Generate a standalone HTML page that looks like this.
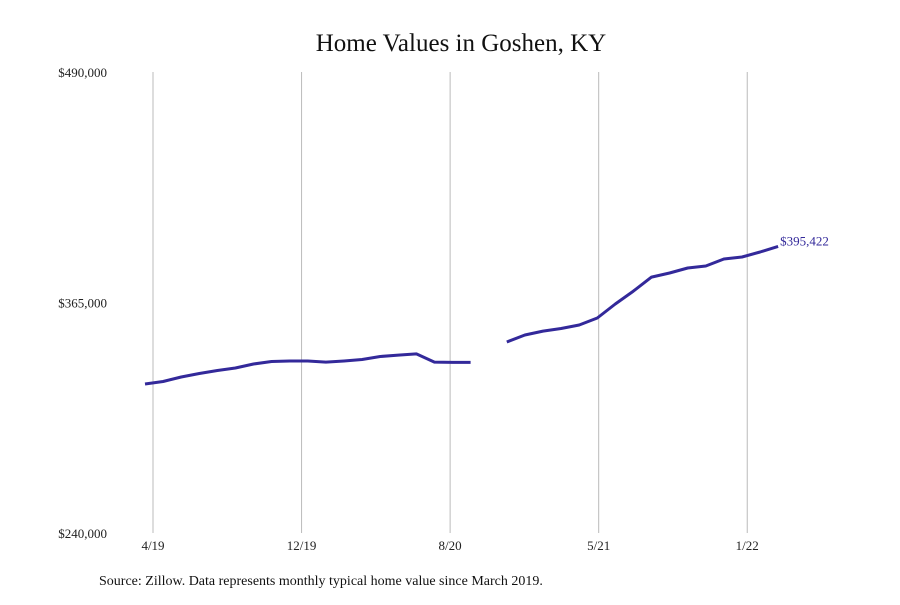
<!DOCTYPE html>
<html><head><meta charset="utf-8"><style>
body{margin:0;background:#fff;}
svg text{font-family:"Liberation Serif",serif;}
</style></head><body>
<svg width="900" height="600" viewBox="0 0 900 600">
<text x="461" y="51" text-anchor="middle" font-size="25" fill="#111">Home Values in Goshen, KY</text>
<g id="grid"></g><g id="yt"></g><g id="xt"></g>
<path id="line" fill="none" stroke="#33299a" stroke-width="3" stroke-linejoin="round"/>
<text id="endlbl" font-size="13" fill="#33299a"></text>
<text x="99" y="585" font-size="14" fill="#111">Source: Zillow. Data represents monthly typical home value since March 2019.</text>
</svg>
<script>
const values=[320800,322160,324600,326500,328100,329500,331650,333000,333300,333300,332700,333300,334100,335700,336500,337100,332700,332500,332500,null,343600,347400,349500,350900,352800,356600,364200,371200,378800,381000,383700,384800,388600,389700,392400,395422];
const yTicks=[240000,365000,490000];
const yTickLabels=["$240,000","$365,000","$490,000"];
const xTickPos=[1,9,17,25,33];
const xTickLabels=["4/19","12/19","8/20","5/21","1/22"];
const NS="http://www.w3.org/2000/svg";
const ymin=240000,ymax=490000;
function y(v){return 533-(v-ymin)/(ymax-ymin)*461;}
function x(i){return 145+i*18.09;}
function tx(i){return 153+(i-1)*18.57;}
const grid=document.getElementById('grid'),yt=document.getElementById('yt'),xt=document.getElementById('xt');
xTickPos.forEach((p,k)=>{
 const l=document.createElementNS(NS,'line');
 l.setAttribute('x1',tx(p));l.setAttribute('x2',tx(p));l.setAttribute('y1',72);l.setAttribute('y2',533);
 l.setAttribute('stroke','#bbb');l.setAttribute('stroke-width','1');
 
 
 grid.appendChild(l);
 const t=document.createElementNS(NS,'text');
 t.setAttribute('x',tx(p));t.setAttribute('y',550);t.setAttribute('text-anchor','middle');t.setAttribute('font-size','13');t.setAttribute('fill','#222');
 t.textContent=xTickLabels[k];
 
 
 xt.appendChild(t);
});
yTicks.forEach((v,k)=>{
 const t=document.createElementNS(NS,'text');
 t.setAttribute('x',107);t.setAttribute('y',y(v)+5);t.setAttribute('text-anchor','end');t.setAttribute('font-size','13');t.setAttribute('fill','#222');
 t.textContent=yTickLabels[k];
 
 
 yt.appendChild(t);
});
let d='',pen=false;
values.forEach((v,i)=>{
 if(v===null){pen=false;return;}
 d+=(pen?'L':'M')+x(i).toFixed(1)+' '+y(v).toFixed(1)+' ';pen=true;
});
document.getElementById('line').setAttribute('d',d);
const li=values.length-1,lbl=document.getElementById('endlbl');
lbl.setAttribute('x',x(li)+2);lbl.setAttribute('y',y(values[li])-1);
lbl.textContent='$'+values[li].toLocaleString('en-US');
</script>
</body></html>
